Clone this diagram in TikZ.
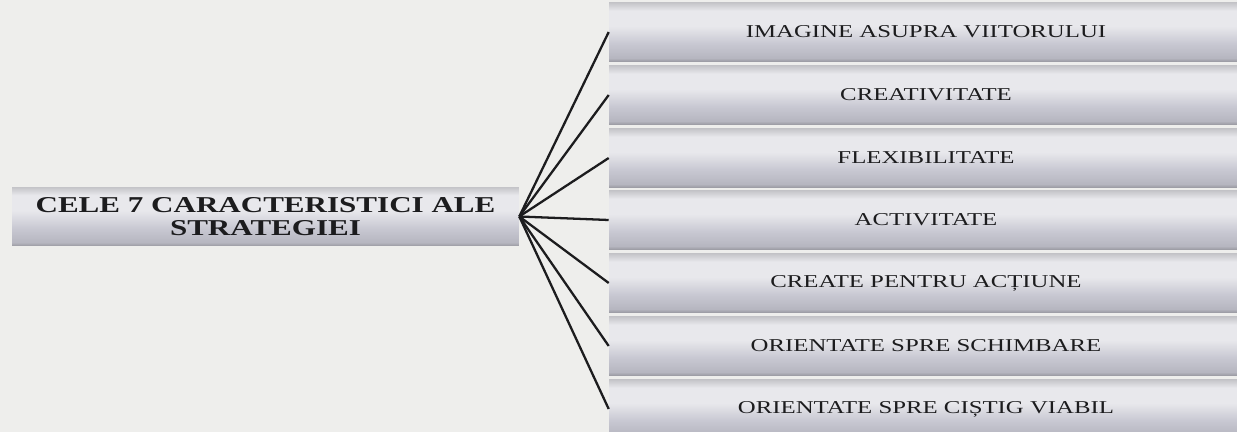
\documentclass[tikz,border=0pt]{standalone}
\usepackage{fontspec}
\setmainfont{Liberation Serif}
\newfontfamily\widefont[FakeStretch=1.37]{Liberation Serif}
\usepackage{tikz}
\usetikzlibrary{positioning}
\definecolor{paper}{HTML}{EEEEEC}
\definecolor{inkdark}{HTML}{1C1C1E}
\definecolor{bevbot}{HTML}{9A9AA2}
\definecolor{bevlow}{HTML}{B6B6C0}
\definecolor{bevmid}{HTML}{C8C8D2}
\definecolor{bevhi}{HTML}{E8E8EC}
\definecolor{bevtop}{HTML}{C4C4C8}
\pgfdeclareverticalshading{bevel}{100bp}{color(0bp)=(bevbot); color(25bp)=(bevbot);
  color(28bp)=(bevlow); color(40bp)=(bevmid); color(55bp)=(bevhi);
  color(68bp)=(bevhi); color(75bp)=(bevtop); color(100bp)=(bevtop)}

\begin{document}
\begin{tikzpicture}[x=0.02cm, y=-0.02cm,
      bar/.style={rectangle, shading=bevel, minimum height=1.18cm,
        inner sep=0pt, align=center, text=inkdark},
      core/.style={bar, minimum width=10.14cm,
        font=\widefont\bfseries\fontsize{12.9}{13.4}\selectfont},
      trait/.style={bar, minimum width=12.68cm,
        font=\widefont\fontsize{10.3}{12}\selectfont},
      link/.style={draw=inkdark, line width=1.3pt}
    ]
      \useasboundingbox (0,0) rectangle (1237,432);
      \fill[paper] (0,0) rectangle (1237,432);
      \node[core] (strat) at (265.5,216.5) {CELE 7 CARACTERISTICI ALE\\STRATEGIEI};
      \node[trait] (viit) at (926,32)  {IMAGINE ASUPRA VIITORULUI};
      \node[trait] (crea) at (926,95)  {CREATIVITATE};
      \node[trait] (flex) at (926,158) {FLEXIBILITATE};
      \node[trait] (acti) at (926,220) {ACTIVITATE};
      \node[trait] (actn) at (926,283) {CREATE PENTRU ACȚIUNE};
      \node[trait] (schb) at (926,346) {ORIENTATE SPRE SCHIMBARE};
      \node[trait] (cstg) at (926,409) {ORIENTATE SPRE CIȘTIG VIABIL};
      \draw[link] (strat.east)--(viit.west); \draw[link] (strat.east)--(crea.west);
      \draw[link] (strat.east)--(flex.west); \draw[link] (strat.east)--(acti.west);
      \draw[link] (strat.east)--(actn.west); \draw[link] (strat.east)--(schb.west);
      \draw[link] (strat.east)--(cstg.west);
    \end{tikzpicture}
\end{document}
